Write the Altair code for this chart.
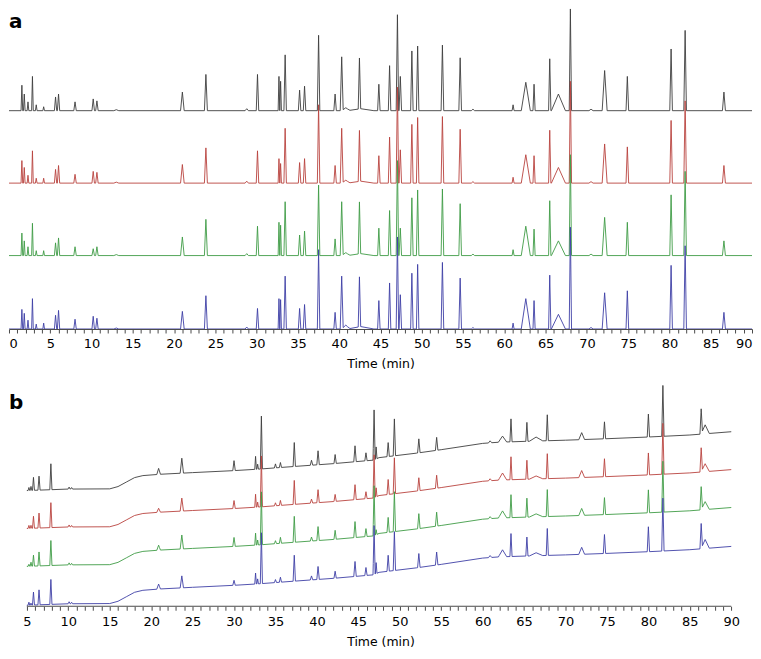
import numpy as np
import pandas as pd
import altair as alt

FONT = "DejaVu Sans"
AXIS_C = "#4a4a4a"

TRACES = ["black", "red", "green", "blue"]
COLORS = ["#3d3d3d", "#b8423e", "#3f9c45", "#3d3fa6"]
PANEL_LABELS = ["a", "b"]

# ---------------- panel a (peak table: retention time, half width, heights) ----
A_OFFSETS = [223, 149, 75, 0]
A_TIMES = [1.56, 1.85, 2.3, 2.84, 3.3, 4.2, 5.64, 6.0, 8.0, 10.2, 10.65, 13.0,
           21.0, 23.85, 28.8, 30.1, 32.7, 32.9, 33.45, 35.2, 35.8, 37.5, 39.5,
           40.3, 42.45, 44.8, 46.1, 47.05, 47.4, 48.8, 49.5, 52.5, 54.65, 56.2,
           61.06, 62.6, 63.6, 65.5, 66.55, 68.0, 70.5, 72.15, 74.9, 80.2, 81.9,
           86.6, 40.8, 42.6]
A_WIDTHS = [0.1, 0.1, 0.1, 0.1, 0.1, 0.1, 0.14, 0.14, 0.15, 0.15, 0.15, 0.3,
            0.22, 0.18, 0.2, 0.15, 0.1, 0.1, 0.15, 0.15, 0.15, 0.15, 0.15, 0.18,
            0.15, 0.15, 0.15, 0.15, 0.15, 0.15, 0.15, 0.16, 0.16, 0.2, 0.12,
            0.55, 0.13, 0.14, 0.85, 0.14, 0.25, 0.3, 0.16, 0.16, 0.16, 0.18,
            0.5, 1.6]
A_BLACK = [26, 17, 9, 35, 6, 4, 14, 17, 9, 12, 10, 1, 19, 37, 2, 37, 35, 30, 57,
           21, 25, 77, 17, 55, 52, 27, 46, 98, 35, 61, 66, 67, 54, 1.5, 6, 29,
           27, 53, 17, 104, 1.5, 41, 35, 63, 82, 19, 3, 2]
A_RED = [23, 16, 8, 33, 5, 5, 14, 18, 9, 12, 11, 1, 19, 36, 2, 33, 25, 20, 56,
         21, 25, 80, 18, 56, 52, 28, 47, 98, 34, 60, 67, 68, 55, 1.5, 6, 29,
         28, 54, 16, 104, 1.5, 40, 37, 64, 84, 18, 3, 2]
A_GREEN = [23, 15, 9, 33, 5, 5, 13, 18, 9, 7, 9, 1, 19, 37, 2, 30, 34, 31, 55,
           21, 25, 72, 17, 55, 53, 28, 46, 97, 28, 59, 67, 68, 53, 1.5, 6, 30,
           27, 56, 15, 103, 1.5, 39, 34, 62, 86, 15, 3, 2]
A_BLUE = [20, 16, 9, 31, 5, 6, 14, 19, 10, 13, 11, 1, 18, 34, 2, 21, 31, 30, 54,
          21, 25, 81, 17, 54, 51, 29, 47, 94, 35, 57, 66, 68, 52, 1.5, 6, 31,
          29, 55, 15, 104, 1.5, 37, 39, 65, 85, 17, 4, 2.5]

# ---------------- panel b (drifting baseline + peaks) ----------------
B_OFFSETS = [116, 78, 40, 1]
B_BASE_T = [5, 10, 15, 16, 17, 18, 19, 21, 25, 30, 33, 37, 42, 46.8, 47.5, 52,
            55, 60, 62, 65, 70, 75, 80, 85, 90]
B_BASE_V = [0, 1.5, 1.7, 4, 8.5, 13, 15, 16.3, 18, 20, 21.5, 24, 27, 30.5, 33,
            37.5, 41, 47.3, 48.5, 49.3, 50.5, 52, 53.7, 55.7, 59]
B_TIMES = [5.25, 5.5, 5.8, 6.47, 7.9, 10.1, 10.4, 20.9, 23.7, 30.0, 32.6, 32.85,
           33.3, 35.0, 35.6, 37.27, 39.35, 40.14, 42.2, 44.6, 45.92, 46.9, 47.15,
           48.6, 49.35, 52.3, 54.45, 60.9, 62.4, 63.42, 65.34, 66.45, 67.8,
           71.95, 74.7, 80.0, 81.75, 86.37, 86.85]
B_WIDTHS = [0.1, 0.1, 0.12, 0.13, 0.13, 0.12, 0.12, 0.22, 0.2, 0.15, 0.1, 0.1,
            0.13, 0.13, 0.13, 0.14, 0.15, 0.15, 0.14, 0.15, 0.14, 0.13, 0.1,
            0.14, 0.14, 0.15, 0.15, 0.2, 0.5, 0.13, 0.13, 0.8, 0.13, 0.35, 0.14,
            0.14, 0.14, 0.15, 0.5]
B_BLACK = [3, 4, 13, 14, 26, 2, 1.5, 6, 15, 10, 13, 5, 53, 4, 5, 24, 5, 14, 9,
           16, 8, 50, 12, 14, 37, 14, 13, 2, 6, 23, 19, 4, 26, 7, 17, 23, 51,
           25, 9]
B_RED = [3, 3, 12, 15, 25, 2, 1.5, 4, 13, 8, 13, 5, 51, 3, 5, 24, 4, 13, 7, 15,
         7, 43, 9, 15, 36, 13, 13, 2, 7, 23, 19, 3, 25, 7, 18, 22, 51, 24, 8]
B_GREEN = [2, 4, 11, 14, 25, 2, 1.5, 5, 14, 9, 12, 5, 53, 3, 6, 26, 4, 14, 9, 16,
           8, 50, 5, 15, 40, 15, 14, 2, 7, 23, 19, 3, 27, 7, 17, 23, 51, 23, 8]
B_BLUE = [3, 2, 13, 15, 25, 2, 1.5, 5, 12, 5, 11, 5, 51, 3, 5, 26, 4, 13, 7, 15,
          8, 49, 11, 16, 39, 14, 13, 2, 7, 23, 19, 3, 27, 7, 19, 25, 53, 25, 9]

X_A = [0, 90]
X_B = [5, 90]
TICKS_A = list(range(0, 91))
TICKS_B = list(range(5, 91))


def trace(times, widths, heights, offset, t0, t1, base_t=None, base_v=None):
    times = np.asarray(times, float)
    widths = np.asarray(widths, float)
    heights = np.asarray(heights, float)
    pts = {float(t0), float(t1)}
    for t, w in zip(times, widths):
        pts.update([t - w, t, t + w])
    if base_t is not None:
        pts.update(float(b) for b in base_t)
    grid = np.array(sorted(p for p in pts if t0 <= p <= t1))
    val = np.full(grid.shape, float(offset))
    if base_t is not None:
        val += np.interp(grid, base_t, base_v)
    for t, w, h in zip(times, widths, heights):
        val += h * np.clip(1 - np.abs(grid - t) / w, 0, None)
    return grid, val


rows_a = []
for name, off, hs in zip(TRACES, A_OFFSETS, [A_BLACK, A_RED, A_GREEN, A_BLUE]):
    g, v = trace(A_TIMES, A_WIDTHS, hs, off, X_A[0], X_A[1])
    rows_a.append(pd.DataFrame({"t": g, "v": v, "trace": name}))
df_a = pd.concat(rows_a, ignore_index=True)

rows_b = []
for name, off, hs in zip(TRACES, B_OFFSETS, [B_BLACK, B_RED, B_GREEN, B_BLUE]):
    g, v = trace(B_TIMES, B_WIDTHS, hs, off, X_B[0], X_B[1], B_BASE_T, B_BASE_V)
    rows_b.append(pd.DataFrame({"t": g, "v": v, "trace": name}))
df_b = pd.concat(rows_b, ignore_index=True)

color = alt.Color("trace:N", scale=alt.Scale(domain=TRACES, range=COLORS), legend=None)

label_expr = "datum.value % 5 === 0 ? datum.label : ''"

# ---------------- panel a ----------------
xa = alt.X("t:Q", scale=alt.Scale(domain=X_A, nice=False, zero=False),
           axis=alt.Axis(title="Time (min)", values=TICKS_A, tickCount=200, format="d",
                         labelExpr=label_expr, labelFlush=True))
ya = alt.Y("v:Q", scale=alt.Scale(domain=[0, 327], nice=False, zero=False), axis=None)

lines_a = alt.Chart(df_a).mark_line(strokeWidth=0.9, clip=True).encode(
    x=xa, y=ya, color=color, detail="trace:N")
text_a = alt.Chart(pd.DataFrame({"label": [PANEL_LABELS[0]]})).mark_text(
    font=FONT, fontSize=20, fontWeight="bold", align="left", baseline="alphabetic",
    color="#000", clip=True).encode(text="label:N", x=alt.value(0), y=alt.value(19))
panel_a = alt.layer(lines_a, text_a).properties(width=745, height=321)

# ---------------- panel b ----------------
axis_b = alt.Axis(title="Time (min)", values=TICKS_B, tickCount=200, format="d",
                  labelExpr=label_expr, domain=False, labelFlush=False)
scale_xb = alt.Scale(domain=[2.846, 92.503], nice=False, zero=False)
xb = alt.X("t:Q", scale=scale_xb, axis=axis_b)
yb = alt.Y("v:Q", scale=alt.Scale(domain=[0, 223], nice=False, zero=False), axis=None)

lines_b = alt.Chart(df_b).mark_line(strokeWidth=0.9, clip=True).encode(
    x=xb, y=yb, color=color, detail="trace:N")
rule_b = alt.Chart(pd.DataFrame({"t": [X_B[0]], "t_end": [X_B[1]]})).mark_rule(
    color=AXIS_C, strokeWidth=1).encode(
    x=alt.X("t:Q", scale=scale_xb, axis=axis_b), x2="t_end:Q", y=alt.datum(0))
text_b = alt.Chart(pd.DataFrame({"label": [PANEL_LABELS[1]]})).mark_text(
    font=FONT, fontSize=20, fontWeight="bold", align="left", baseline="alphabetic",
    color="#000", clip=True).encode(text="label:N", x=alt.value(0), y=alt.value(25))
panel_b = alt.layer(lines_b, rule_b, text_b).properties(width=745, height=223)

chart = alt.vconcat(panel_a, panel_b, spacing=13).properties(
    padding={"left": 0, "top": 0, "right": 0, "bottom": 0}
).configure_view(strokeWidth=0).configure_axis(
    grid=False, tickSize=4, labelPadding=5, labelFontSize=13, labelFont=FONT,
    labelColor="#000", titleFont=FONT, titleFontSize=12.5, titleFontWeight="normal",
    titleColor="#000", titlePadding=7, domainColor=AXIS_C, tickColor=AXIS_C,
    labelOverlap=False, labelAngle=0
)

chart.save("out.html", embed_options={"renderer": "svg", "actions": False})
